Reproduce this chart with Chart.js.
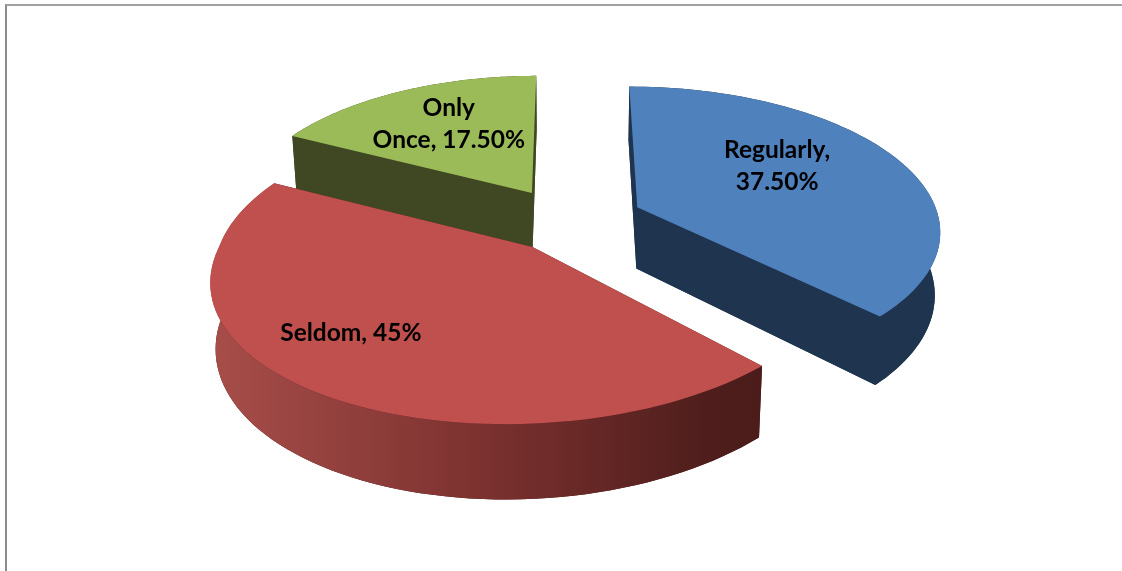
<!DOCTYPE html>
<html>
<head>
<meta charset="utf-8">
<script src="https://cdn.jsdelivr.net/npm/chart.js@4"></script>
<style>
  html, body { margin: 0; padding: 0; background: #fff; overflow: hidden; }
  #wrap { position: relative; width: 1122px; height: 571px; overflow: hidden; }
  #frame { position: absolute; left: 5px; top: 4px; right: -5px; bottom: -5px; border-top: 2px solid #a0a0a0; border-left: 2px solid #8c8c8c; }
  #pieChart { position: absolute; left: 0; top: 0; }
</style>
</head>
<body>
<div id="wrap">
  <div id="frame"></div>
  <canvas id="pieChart" width="1122" height="571"></canvas>
</div>
<script>
const categories = ['Regularly', 'Seldom', 'Only Once'];
const shares = [37.5, 45, 17.5];
const labelLines = [['Regularly,', '37.50%'], ['Seldom, 45%'], ['Only', 'Once, 17.50%']];
const topColors = ['#4f81bd', '#c0504d', '#9bbb59'];
const wallColors = ['#1f344e', '#4b1c1a', '#3f4823'];

// how the flat pie is tipped over: perspective, squash and thickness
const view = { rx: 305, ry: 142, persp: 0.15, depth: 62, taper: 0.015 };
// small per slice corrections, the original's 3D camera is not quite a true one
const nudgeX = [3, 0, -7];
const nudgeY = [-2, 0, -2];
const shearX = [0, -20, 0];
const widthX = [0.99, 1, 0.975];
const drawOrder = [2, 0, 1];
// where each label sits on its slice (fraction of radius, degrees off the middle)
const labelRadial = [0.59, 0.72, 0.64];
const labelTurn = [-9.5, 7, 1.5];

function project(arc, px, py, z) {
  const w = 1 - view.persp * py;
  return {
    x: arc.x + view.rx * px / w * (1 - view.taper * z),
    y: arc.y + (view.ry * py + view.depth * z) / w,
  };
}

// point on the exploded slice, r in pie radii
function slicePoint(arc, angle, r, z) {
  const i = arc.$context.index;
  const mid = (arc.startAngle + arc.endAngle) / 2;
  const e = arc.options.offset / arc.outerRadius;
  const ux = r * Math.cos(angle) * widthX[i];
  const uy = r * Math.sin(angle);
  const p = project(arc, e * Math.cos(mid) + ux, e * Math.sin(mid) + uy, z);
  return { x: p.x + nudgeX[i] + shearX[i] * Math.max(uy, 0), y: p.y + nudgeY[i] };
}

function rimPath(ctx, arc, z, reverse) {
  const steps = 80;
  for (let k = 0; k <= steps; k++) {
    const t = reverse ? 1 - k / steps : k / steps;
    const p = slicePoint(arc, arc.startAngle + (arc.endAngle - arc.startAngle) * t, 1, z);
    ctx.lineTo(p.x, p.y);
  }
}

function drawSlice(ctx, arc, i) {
  const a0 = slicePoint(arc, arc.startAngle, 0, 0);
  const a1 = slicePoint(arc, arc.startAngle, 0, 1);

  // cut faces and floor
  ctx.fillStyle = wallColors[i];
  ctx.beginPath();
  ctx.moveTo(a1.x, a1.y);
  rimPath(ctx, arc, 1, false);
  ctx.closePath();
  ctx.fill();
  [arc.startAngle, arc.endAngle].forEach(function (angle) {
    const t = slicePoint(arc, angle, 1, 0);
    const b = slicePoint(arc, angle, 1, 1);
    ctx.beginPath();
    ctx.moveTo(a0.x, a0.y);
    ctx.lineTo(t.x, t.y);
    ctx.lineTo(b.x, b.y);
    ctx.lineTo(a1.x, a1.y);
    ctx.closePath();
    ctx.fill();
  });

  // outer wall, the big slice gets the shaded band
  if (i === 1) {
    const left = arc.x - view.rx * 1.2;
    const right = slicePoint(arc, arc.startAngle, 1, 0).x;
    const grad = ctx.createLinearGradient(left, 0, right, 0);
    grad.addColorStop(0, '#a84e4a');
    grad.addColorStop(0.5, '#7b312f');
    grad.addColorStop(0.9, '#4f1e1c');
    grad.addColorStop(1, '#4b1c1a');
    ctx.fillStyle = grad;
  }
  ctx.beginPath();
  rimPath(ctx, arc, 0, false);
  rimPath(ctx, arc, 1, true);
  ctx.closePath();
  ctx.fill();

  // top face
  ctx.fillStyle = arc.options.backgroundColor;
  ctx.beginPath();
  ctx.moveTo(a0.x, a0.y);
  rimPath(ctx, arc, 0, false);
  ctx.closePath();
  ctx.fill();
}

const tiltPlugin = {
  id: 'tilt',
  beforeDatasetsDraw(chart) {
    const arcs = chart.getDatasetMeta(0).data;
    const ctx = chart.ctx;
    ctx.save();
    drawOrder.forEach(function (i) {
      drawSlice(ctx, arcs[i], i);
    });
    ctx.restore();
    return false;
  },
  afterDraw(chart) {
    const arcs = chart.getDatasetMeta(0).data;
    const ctx = chart.ctx;
    ctx.save();
    ctx.font = 'bold 24.5px Lato';
    ctx.fillStyle = '#000';
    ctx.textAlign = 'center';
    ctx.textBaseline = 'middle';
    arcs.forEach(function (arc, i) {
      const mid = (arc.startAngle + arc.endAngle) / 2 + labelTurn[i] * Math.PI / 180;
      const p = slicePoint(arc, mid, labelRadial[i], 0);
      const lines = labelLines[i];
      lines.forEach(function (line, n) {
        ctx.fillText(line, p.x, p.y + (n - (lines.length - 1) / 2) * 32);
      });
    });
    ctx.restore();
  },
};

new Chart(document.getElementById('pieChart'), {
  type: 'pie',
  data: {
    labels: categories,
    datasets: [{
      data: shares,
      backgroundColor: topColors,
      borderWidth: 0,
      offset: 44,
    }],
  },
  options: {
    responsive: false,
    animation: false,
    radius: 200,
    layout: { padding: { left: 24, bottom: 129 } },
    plugins: {
      legend: { display: false },
      tooltip: { enabled: false },
    },
  },
  plugins: [tiltPlugin],
});
</script>
</body>
</html>
